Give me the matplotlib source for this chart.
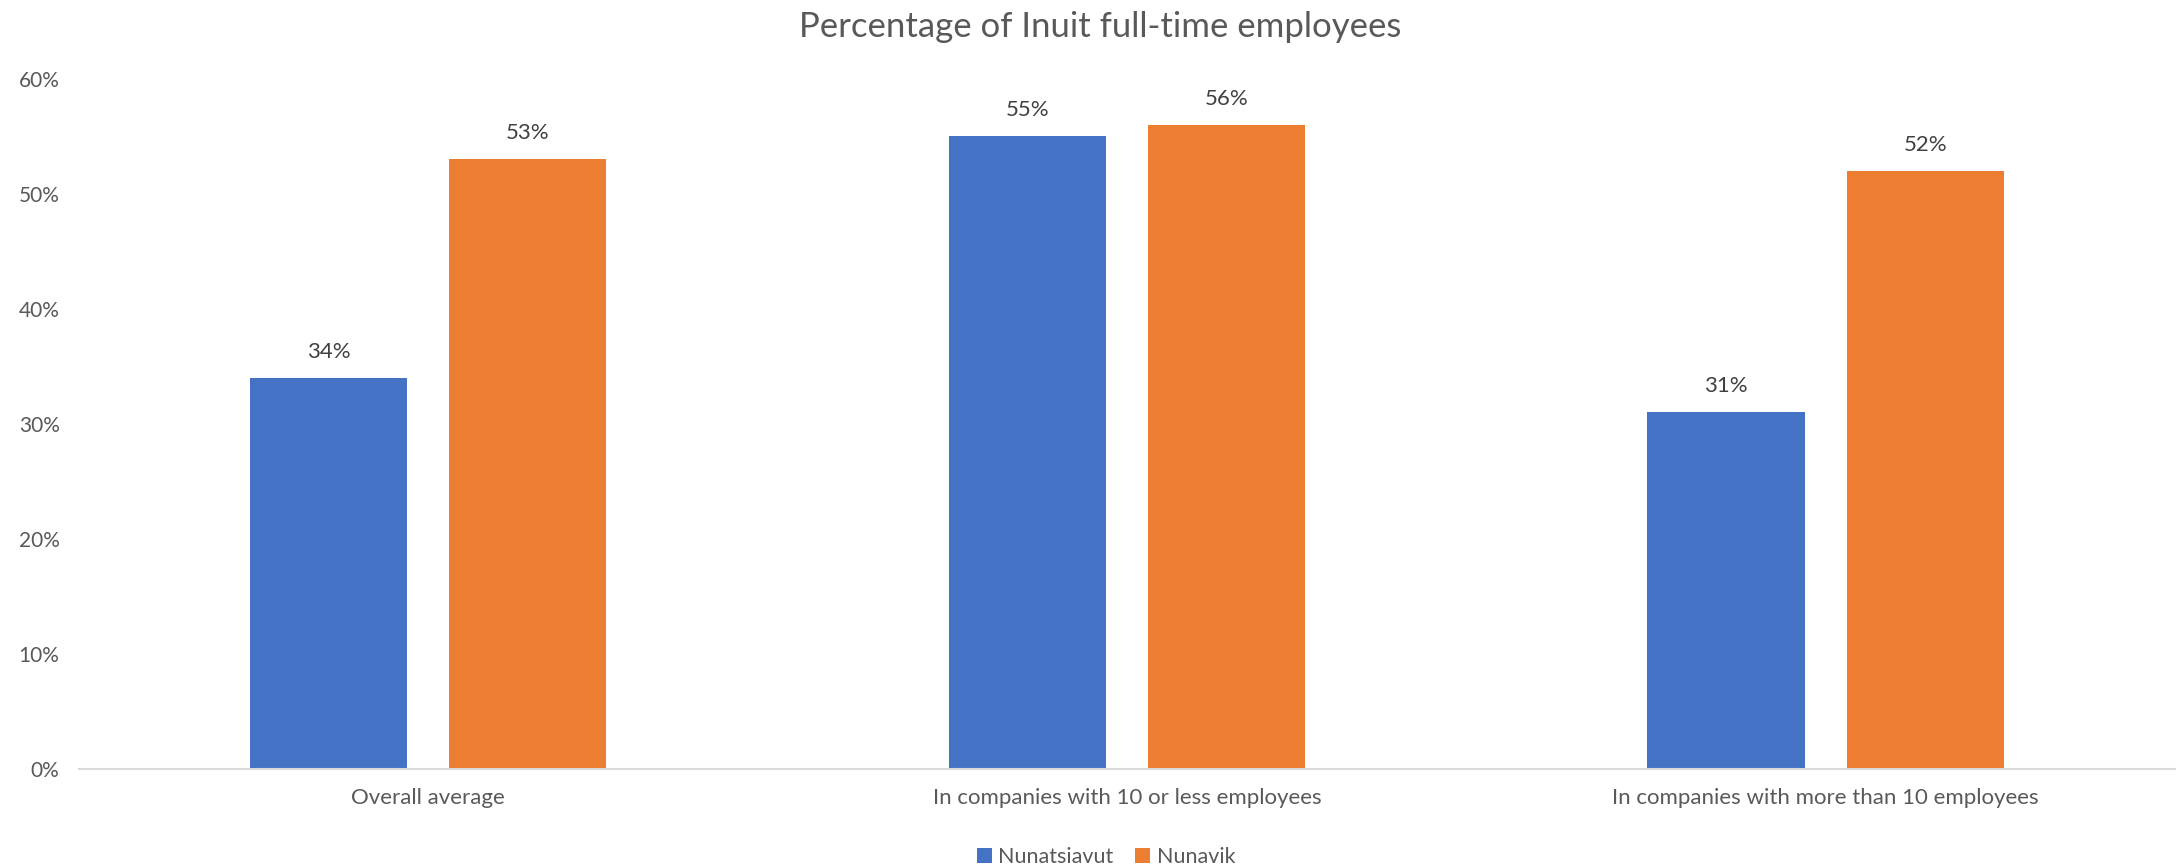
import matplotlib.pyplot as plt
import numpy as np
from matplotlib.ticker import PercentFormatter

# Share of Inuit employees working full time
categories = ['Overall average', 'In companies with 10 or less employees',
              'In companies with more than 10 employees']
nunatsiavut = [0.34, 0.55, 0.31]
nunavik = [0.53, 0.56, 0.52]
series_names = ['Nunatsiavut', 'Nunavik']
y_ticks = [0, 0.1, 0.2, 0.3, 0.4, 0.5, 0.6]

blue = '#4472C4'
orange = '#ED7D31'
gray = '#595959'

plt.rcParams['font.family'] = ['Lato', 'DejaVu Sans']

fig = plt.figure(figsize=(21.83, 8.65), dpi=100)
ax = fig.add_axes([0.0362, 0.111, 0.9601, 0.7977])

x = np.arange(len(categories))
width = 0.225
offset = 0.1425
bars1 = ax.bar(x - offset, nunatsiavut, width, color=blue, label=series_names[0])
bars2 = ax.bar(x + offset, nunavik, width, color=orange, label=series_names[1])

# value labels over each bar
for bars in (bars1, bars2):
    for b in bars:
        v = b.get_height()
        ax.annotate(f'{v:.0%}', (b.get_x() + b.get_width() / 2, v),
                    xytext=(0, 26), textcoords='offset pixels',
                    ha='center', va='center', fontsize=16, color='#404040')

ax.set_xlim(-0.5, len(categories) - 0.5)
ax.set_ylim(0, 0.6)
ax.set_yticks(y_ticks)
ax.yaxis.set_major_formatter(PercentFormatter(1.0, decimals=0))
ax.set_xticks(x)
ax.set_xticklabels(categories, fontsize=16)
ax.tick_params(axis='both', length=0, labelcolor=gray)
ax.tick_params(axis='y', pad=14, labelsize=15)
ax.tick_params(axis='x', pad=14)

for side in ('top', 'right', 'left'):
    ax.spines[side].set_visible(False)
ax.spines['bottom'].set_color('#D9D9D9')
ax.spines['bottom'].set_linewidth(1.5)

# title and legend sit centred on the figure rather than on the plot area
ax.set_title('Percentage of Inuit full-time employees', fontsize=25,
             color=gray, pad=30, x=0.487)

ax.legend(loc='upper center', bbox_to_anchor=(0.49, -0.085), ncol=2,
          frameon=False, fontsize=15.5, labelcolor=gray,
          handlelength=0.7, handleheight=0.7, handletextpad=0.3,
          columnspacing=1.0)

fig.savefig('out.png', dpi=100)
